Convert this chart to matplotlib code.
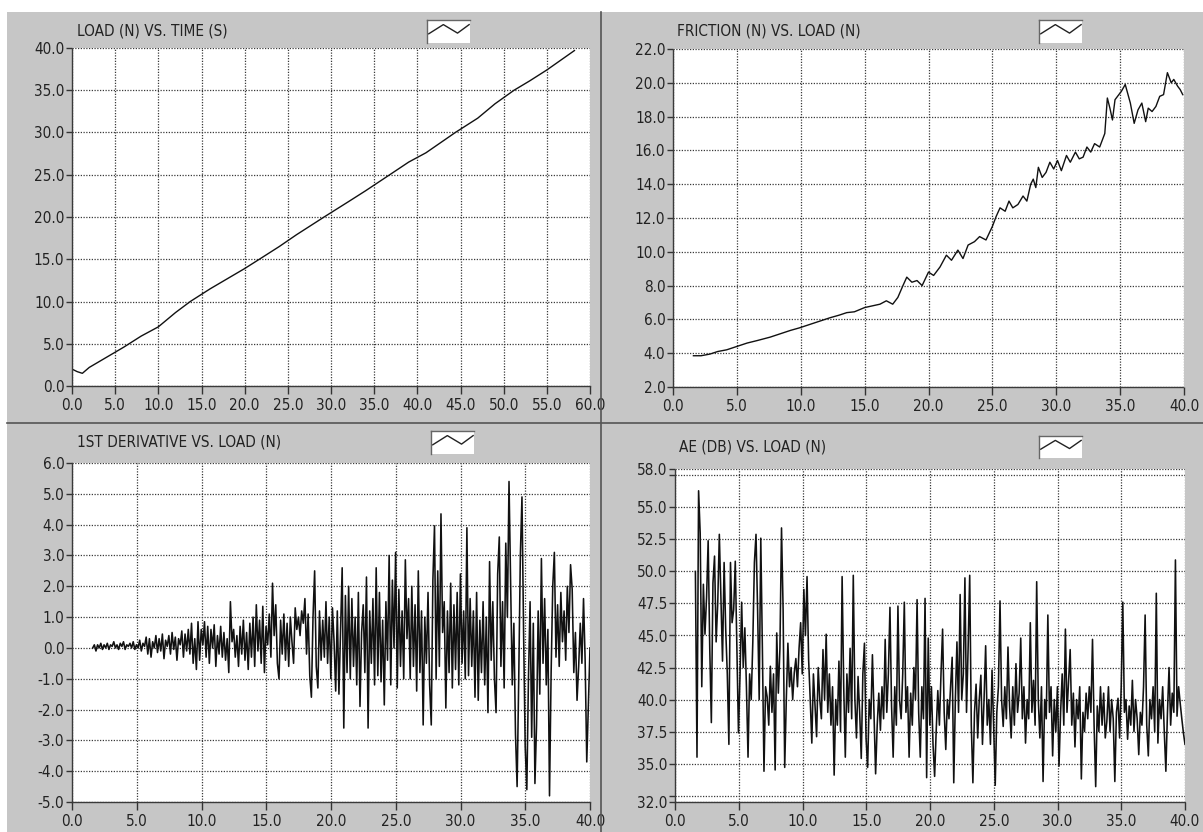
import numpy as np
import matplotlib
matplotlib.use("Agg")
import matplotlib.pyplot as plt
from matplotlib.patches import Rectangle
from matplotlib.lines import Line2D

# ---------------- data ----------------
# Panel 1: load (N) vs time (s)
time_s = [0.0, 0.6, 1.2, 2.0, 4.0, 6.0, 8.0, 10.0, 12.0, 13.7, 16.0, 18.0, 20.0, 21.7,
          24.0, 26.0, 29.2, 32.0, 34.0, 36.8, 39.0, 41.0, 44.4, 47.0, 49.0, 51.2,
          53.0, 55.0, 58.2]
load_n = [2.0, 1.7, 1.5, 2.2, 3.4, 4.6, 5.9, 7.0, 8.7, 10.0, 11.5, 12.7, 13.9, 15.0,
          16.5, 17.9, 20.0, 21.8, 23.1, 25.0, 26.5, 27.6, 30.0, 31.7, 33.4, 35.0,
          36.1, 37.4, 39.7]

# Panel 2: friction (N) vs load (N)
friction_load = [1.6, 2.2, 2.9, 3.5, 4.2, 5.0, 5.8, 6.6, 7.6, 8.4, 9.2, 9.9, 10.7, 11.5,
                 12.3, 13.0, 13.6, 14.2, 15.0, 15.6, 16.2, 16.7, 17.2, 17.6, 18.0, 18.3,
                 18.7, 19.1, 19.5, 20.0, 20.4, 20.9, 21.4, 21.8, 22.3, 22.7, 23.1, 23.6,
                 24.0, 24.5, 25.0, 25.3, 25.6, 26.0, 26.3, 26.6, 27.0, 27.4, 27.7, 28.0,
                 28.2, 28.4, 28.6, 28.9, 29.2, 29.5, 29.8, 30.1, 30.4, 30.8, 31.1, 31.5,
                 31.8, 32.1, 32.4, 32.7, 33.0, 33.4, 33.8, 34.0, 34.2, 34.4, 34.6, 34.8,
                 35.1, 35.4, 35.8, 36.1, 36.4, 36.7, 37.0, 37.2, 37.5, 37.8, 38.1, 38.4,
                 38.7, 39.0, 39.2, 39.5, 39.7, 39.9]
friction_n = [3.85, 3.85, 3.95, 4.1, 4.2, 4.4, 4.6, 4.75, 4.95, 5.15, 5.35, 5.5, 5.7, 5.9,
              6.1, 6.25, 6.4, 6.45, 6.7, 6.8, 6.9, 7.1, 6.9, 7.3, 8.0, 8.5,
              8.2, 8.3, 8.0, 8.8, 8.6, 9.1, 9.8, 9.5, 10.1, 9.6, 10.4, 10.6,
              10.9, 10.7, 11.5, 12.1, 12.6, 12.4, 13.0, 12.6, 12.8, 13.3, 13.0, 14.0,
              14.3, 13.8, 15.0, 14.4, 14.7, 15.3, 14.9, 15.4, 14.8, 15.7, 15.3, 15.9,
              15.5, 15.6, 16.2, 15.9, 16.4, 16.2, 17.0, 19.1, 18.5, 17.8, 19.0, 19.2,
              19.5, 19.9, 18.8, 17.6, 18.4, 18.8, 17.7, 18.5, 18.3, 18.6, 19.2, 19.3,
              20.6, 20.0, 20.2, 19.8, 19.6, 19.3]

# Panel 3: 1st derivative vs load (N), sampled evenly from 1.6 N to 40 N
derivative = [
    0.0, 0.1, -0.1, 0.1, 0.0, 0.15, -0.05, 0.1,
    0.0, 0.15, -0.05, 0.1, 0.05, 0.2, 0.0, 0.1,
    -0.05, 0.15, 0.05, 0.2, -0.05, 0.1, 0.05, 0.15,
    0.0, 0.2, -0.05, 0.1, 0.0, 0.25, -0.1, 0.15,
    0.05, 0.35, -0.2, 0.3, -0.3, 0.2, 0.0, 0.4,
    -0.15, 0.3, -0.1, 0.45, -0.35, 0.25, 0.05, 0.4,
    -0.2, 0.5, -0.05, 0.35, -0.4, 0.3, 0.1, 0.55,
    -0.3, 0.45, -0.1, 0.6, -0.2, 0.8, -0.5, 0.3,
    -0.7, 0.85, -0.4, 0.6, 0.1, 0.85, -0.3, 0.7,
    -0.5, 0.6, 0.0, 0.75, -0.6, 0.4, -0.2, 0.7,
    -0.3, 0.5, -0.4, 0.3, -0.8, 1.5, 0.2, 0.6,
    -0.3, 0.4, -0.6, 0.7, -0.2, 0.9, -0.4, 0.5,
    -0.7, 0.8, -0.3, 1.0, -0.6, 1.4, -0.1, 0.9,
    -0.5, 1.35, -0.8, 0.7, 0.1, 1.1, -0.3, 2.1,
    0.4, 1.4, -0.5, -1.0, 0.9, -0.2, 1.1, -0.4,
    0.8, -0.6, 1.0, 0.2, -0.5, 1.3, 0.6, 1.0,
    0.4, 1.2, 0.8, 1.6, -0.2, 1.1, -0.9, -1.6,
    1.0, 2.5, -0.6, -1.3, 1.2, -0.4, 0.9, -0.3,
    1.5, -0.5, 1.0, -1.0, 1.3, 0.2, -1.4, 1.2,
    -1.5, 0.6, 2.6, -2.6, 1.7, -0.8, 2.0, -1.0,
    1.6, -0.6, 1.0, -1.2, 1.8, -1.9, 0.5, 1.4,
    -0.8, 2.3, -2.6, 1.2, -0.5, 1.6, -1.2, 2.6,
    -0.9, 1.8, -1.1, 0.9, -1.85, 1.5, -0.4, 3.0,
    -1.2, 2.2, 0.0, 3.1, -1.3, 1.9, -0.6, 1.2,
    -1.0, 2.86, 0.3, 1.6, -1.0, 2.0, -0.6, 1.4,
    -1.4, 2.5, -0.8, 1.2, -2.5, 1.0, -0.5, 1.8,
    -1.2, -2.5, 2.2, 3.96, -1.0, 2.5, -0.6, 4.35,
    0.5, 1.5, -1.95, 1.2, -0.8, 2.1, -1.3, 1.4,
    -0.7, 1.8, -1.2, 2.4, -0.5, 1.2, -1.0, 3.9,
    -0.9, 1.6, -0.6, 1.2, -1.6, 1.8, -1.7, 0.9,
    -0.8, 1.5, -1.2, 1.0, -2.1, 2.8, -0.4, 1.5,
    -1.0, -2.1, 2.4, 3.6, -0.6, 1.5, -1.3, 3.4,
    1.0, 5.4, 2.0, -1.2, 0.8, -2.8, -4.5, -1.0,
    3.0, 4.9, 0.5, -3.2, -4.6, -1.0, 1.5, -2.9,
    0.8, -4.4, -2.5, 1.2, -1.5, 2.9, -0.5, 1.6,
    -1.2, 0.6, -4.8, -0.8, 2.0, 3.1, -0.3, 1.4,
    -0.6, 1.8, 0.2, 1.2, -0.4, 2.0, 0.5, 2.7,
    1.9, -0.8, 0.5, -1.7, -0.6, 0.8, -0.5, 1.6,
    -0.4, -3.7, -1.8, 0.0,
]

# Panel 4: AE (dB) vs load (N), sampled evenly from 1.6 N to 40 N
ae_db = [
    50.0, 35.5, 56.3, 53.0, 41.0, 49.0, 45.1, 48.0,
    52.4, 44.0, 38.2, 49.1, 51.2, 44.5, 47.5, 52.9,
    48.0, 43.0, 50.7, 45.5, 42.0, 36.5, 50.7, 46.0,
    47.0, 50.8, 44.0, 37.4, 42.0, 47.6, 42.5, 45.6,
    41.0, 35.5, 42.0, 40.0, 44.5, 50.7, 52.9, 47.0,
    40.0, 52.6, 44.0, 34.4, 41.0, 40.2, 38.0, 42.6,
    39.0, 42.0, 34.5, 45.2, 40.5, 44.0, 53.4, 47.0,
    34.7, 40.0, 44.4, 41.0, 42.5, 40.0, 42.1, 43.2,
    41.0, 44.0, 46.0, 42.0, 48.6, 45.0, 49.6, 43.1,
    40.0, 36.6, 42.0, 39.5, 37.1, 42.5, 40.0, 38.5,
    43.9, 40.0, 45.1, 39.0, 42.0, 38.0, 41.0, 34.1,
    40.0, 38.0, 43.0, 37.5, 49.6, 41.0, 35.5, 42.0,
    39.0, 44.0, 38.5, 49.7, 40.0, 37.0, 41.8, 39.0,
    35.4, 42.0, 44.4, 37.0, 34.7, 40.0, 38.5, 43.5,
    39.0, 34.2, 38.0, 40.5, 37.6, 41.0, 38.5, 44.7,
    39.0, 42.0, 47.2, 39.5, 35.5, 41.0, 38.0, 47.3,
    40.0, 38.5, 42.0, 47.6, 39.0, 41.0, 35.5, 40.5,
    38.0, 42.5, 40.0, 47.8, 39.0, 35.5, 41.0, 38.5,
    47.9, 33.9, 44.8, 38.0, 41.0, 36.5, 34.0, 37.6,
    40.7, 38.0, 42.0, 45.5, 39.0, 36.1, 40.0, 38.5,
    41.0, 43.3, 33.5, 40.0, 44.5, 39.0, 48.2, 40.0,
    42.0, 49.5, 39.0, 44.0, 49.7, 38.0, 33.5, 39.0,
    41.2, 37.0, 40.0, 41.9, 36.5, 40.0, 44.2, 38.0,
    40.0, 36.5, 42.3, 38.0, 33.3, 39.0, 41.0, 47.7,
    40.0, 37.9, 41.0, 38.5, 44.1, 39.5, 37.0, 41.0,
    38.0, 42.8, 39.0, 40.5, 44.8, 38.5, 41.0, 36.6,
    40.0, 38.5, 46.0, 39.0, 41.5, 38.0, 49.2, 40.0,
    37.0, 41.0, 33.6, 40.0, 38.5, 46.6, 39.0, 41.0,
    35.6, 40.0, 37.5, 41.0, 34.8, 39.0, 42.0, 38.0,
    45.5, 39.0, 41.5, 43.9, 38.0, 40.5, 36.3, 40.0,
    38.5, 41.0, 33.8, 39.0, 37.5, 40.5, 38.5, 41.0,
    39.0, 44.7, 38.0, 33.2, 39.5, 37.5, 41.0, 38.0,
    40.5, 37.0, 38.3, 41.0, 37.5, 40.0, 38.5, 33.6,
    39.0, 40.1, 37.0, 41.0, 47.6, 39.0, 40.0, 36.9,
    39.5, 38.0, 41.5, 37.5, 40.0, 38.5, 35.7, 39.0,
    38.0, 41.0, 46.6, 38.0, 35.6, 40.0, 38.5, 41.0,
    37.5, 48.3, 36.6, 40.0, 38.5, 41.0, 37.5, 34.4,
    39.0, 42.5, 38.0, 40.5, 39.0, 50.9, 38.7, 41.0,
    39.7, 38.5, 37.4, 36.5,
]
load_start, load_end = 1.6, 40.0

titles = ["LOAD (N) VS. TIME (S)", "FRICTION (N) VS. LOAD (N)",
          "1ST DERIVATIVE VS. LOAD (N)", "AE (DB) VS. LOAD (N)"]

lt_xticks = [0, 5, 10, 15, 20, 25, 30, 35, 40, 45, 50, 55, 60]
lt_yticks = [0, 5, 10, 15, 20, 25, 30, 35, 40]
load_xticks = [0, 5, 10, 15, 20, 25, 30, 35, 40]
fr_yticks = [2, 4, 6, 8, 10, 12, 14, 16, 18, 20, 22]
de_yticks = [-5, -4, -3, -2, -1, 0, 1, 2, 3, 4, 5, 6]
ae_yticks = [32, 32.5, 35, 37.5, 40, 42.5, 45, 47.5, 50, 52.5, 55, 57.5, 58]
ae_ylabels = ["32.0", "", "35.0", "37.5", "40.0", "42.5", "45.0", "47.5",
              "50.0", "52.5", "55.0", "", "58.0"]

# small legend glyph (zig-zag)
icon_x = [0.04, 0.38, 0.71, 0.98]
icon_y = [0.40, 0.80, 0.43, 0.80]

# ---------------- figure ----------------
W, H = 1203, 832
plt.rcParams["font.family"] = ["DejaVu Sans"]
plt.rcParams["font.stretch"] = "condensed"
fig = plt.figure(figsize=(W / 100, H / 100), dpi=100)
fig.patch.set_facecolor("white")

fig.add_artist(Rectangle((7 / W, 0), (W - 7) / W, (H - 12) / H,
                         transform=fig.transFigure, facecolor="#c6c6c6",
                         edgecolor="none", zorder=-10))
fig.add_artist(Line2D([601 / W, 601 / W], [0, 1 - 12 / H], color="#555555",
                      lw=1.2, transform=fig.transFigure))
fig.add_artist(Line2D([7 / W, 1], [1 - 423 / H, 1 - 423 / H], color="#555555",
                      lw=1.2, transform=fig.transFigure))

TXT = "#222222"
GRID = "#3a3a3a"


def px_axes(l, t, r, b):
    return fig.add_axes([l / W, 1 - b / H, (r - l) / W, (b - t) / H])


def style(ax):
    ax.set_facecolor("white")
    for s in ("top", "right"):
        ax.spines[s].set_visible(False)
    for s in ("left", "bottom"):
        ax.spines[s].set_color(GRID)
        ax.spines[s].set_linestyle((0, (1, 1)))
        ax.spines[s].set_linewidth(1.0)
    ax.grid(True, color=GRID, linestyle=(0, (1, 1.2)), linewidth=0.9)
    ax.set_axisbelow(True)
    ax.tick_params(axis="y", direction="out", length=4, width=1, color="#333333",
                   pad=1.5, labelsize=11, labelcolor=TXT)
    ax.tick_params(axis="x", direction="out", length=5.5, width=1, color="#333333",
                   pad=3, labelsize=11, labelcolor=TXT)


def fmt(vals):
    return ["%.1f" % v for v in vals]


def title_and_icon(x, yc, text, il, it, ir, ib):
    fig.text(x / W, 1 - yc / H, text, ha="left", va="center", fontsize=11, color=TXT)
    iax = px_axes(il, it, ir, ib)
    iax.set_facecolor("white")
    iax.plot(icon_x, icon_y, color="#222222", lw=1.0)
    iax.set_xlim(0, 1)
    iax.set_ylim(0, 1)
    iax.set_xticks([])
    iax.set_yticks([])
    for s in ("bottom", "right"):
        iax.spines[s].set_visible(False)
    for s in ("top", "left"):
        iax.spines[s].set_color("#666666")
        iax.spines[s].set_linewidth(1.0)


# Panel 1
ax1 = px_axes(72, 48, 590, 386)
style(ax1)
ax1.plot(time_s, load_n, color="#111111", lw=1.0)
ax1.set_xlim(0, 60)
ax1.set_ylim(0, 40)
ax1.set_xticks(lt_xticks)
ax1.set_xticklabels(fmt(lt_xticks))
ax1.set_yticks(lt_yticks)
ax1.set_yticklabels(fmt(lt_yticks))
title_and_icon(77, 31, titles[0], 427, 20, 470, 43)

# Panel 2
ax2 = px_axes(673, 49, 1184, 387)
style(ax2)
ax2.plot(friction_load, friction_n, color="#111111", lw=1.0)
ax2.set_xlim(0, 40)
ax2.set_ylim(2, 22)
ax2.set_xticks(load_xticks)
ax2.set_xticklabels(fmt(load_xticks))
ax2.set_yticks(fr_yticks)
ax2.set_yticklabels(fmt(fr_yticks))
title_and_icon(677, 31, titles[1], 1039, 20, 1082, 43)

# Panel 3
ax3 = px_axes(72, 463, 590, 802)
style(ax3)
de_x = np.linspace(load_start, load_end, len(derivative))
ax3.plot(de_x, derivative, color="#111111", lw=1.15)
ax3.set_xlim(0, 40)
ax3.set_ylim(-5, 6)
ax3.set_xticks(load_xticks)
ax3.set_xticklabels(fmt(load_xticks))
ax3.set_yticks(de_yticks)
ax3.set_yticklabels(fmt(de_yticks))
title_and_icon(77, 442, titles[2], 431, 431, 474, 454)

# Panel 4
ax4 = px_axes(675, 469, 1185, 802)
style(ax4)
ae_x = np.linspace(load_start, load_end, len(ae_db))
ax4.plot(ae_x, ae_db, color="#111111", lw=1.15)
ax4.set_xlim(0, 40)
ax4.set_ylim(32, 58)
ax4.set_xticks(load_xticks)
ax4.set_xticklabels(fmt(load_xticks))
ax4.set_yticks(ae_yticks)
ax4.set_yticklabels(ae_ylabels)
title_and_icon(679, 447, titles[3], 1039, 436, 1082, 458)

fig.savefig("out.png", dpi=100, facecolor=fig.get_facecolor())
